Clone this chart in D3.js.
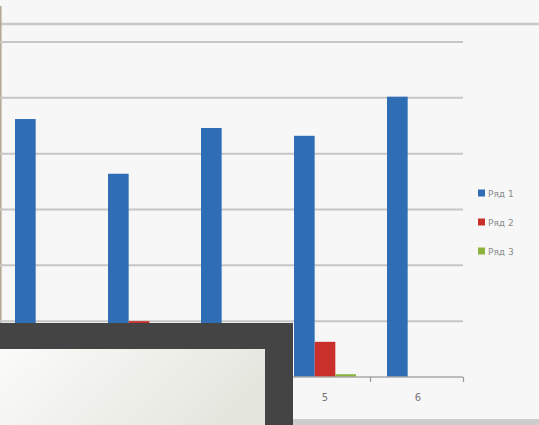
<!DOCTYPE html>
<html>
<head>
<meta charset="utf-8">
<script src="https://cdn.jsdelivr.net/npm/d3@7"></script>
<style>
  body { margin: 0; background: #f7f7f7; overflow: hidden; }
  svg { display: block; }
</style>
</head>
<body>
<script>
// chart values (category 1 sits off the left edge, lower parts hidden by the panel)
const categories = ["1", "2", "3", "4", "5", "6"];
const series = ["Ряд 1", "Ряд 2", "Ряд 3"];
const row1 = [4.3, 4.62, 3.64, 4.46, 4.32, 5.02];
const row2 = [0.5, 0.4, 1.0, 0.6, 0.63, 0];
const row3 = [0.3, 0.2, 0.2, 0.2, 0.05, 0];
const yTicks = [0, 1, 2, 3, 4, 5, 6];

const colors = ["#2f6db5", "#c9302b", "#8db33f"];
const W = 539, H = 425;

const data = categories.map((c, i) => ({cat: c, vals: [row1[i], row2[i], row3[i]]}));

const svg = d3.select("body").append("svg")
  .attr("width", W)
  .attr("height", H);

const x = d3.scaleBand().domain(categories).range([-93.5, 464.5]).paddingInner(0);
const xSub = d3.scaleBand().domain(series).range([x.bandwidth() / 2 - 31, x.bandwidth() / 2 + 31]);
const y = d3.scaleLinear().domain([0, 6]).range([377, 42]);

svg.append("rect").attr("width", W).attr("height", H).attr("fill", "#f7f7f7");

// photo frame line on top
svg.append("line")
  .attr("x1", 0).attr("x2", W).attr("y1", 24).attr("y2", 24)
  .attr("stroke", "#c9c9c9").attr("stroke-width", 2.5);
svg.append("line")
  .attr("x1", 0.8).attr("x2", 0.8).attr("y1", 6).attr("y2", 330)
  .attr("stroke", "#b0a890").attr("stroke-width", 1.5);

// gridlines
svg.append("g")
  .attr("class", "grid")
  .selectAll("line")
  .data(yTicks.filter(d => d > 0))
  .join("line")
  .attr("x1", 0).attr("x2", 463)
  .attr("y1", d => y(d)).attr("y2", d => y(d))
  .attr("stroke", "#c6c6c6")
  .attr("stroke-width", 2);

// bars
const groups = svg.append("g").selectAll("g")
  .data(data)
  .join("g")
  .attr("transform", d => `translate(${x(d.cat)},0)`);

groups.selectAll("rect")
  .data(d => d.vals.map((v, i) => ({s: series[i], v: v, i: i})))
  .join("rect")
  .attr("x", d => xSub(d.s))
  .attr("width", xSub.bandwidth())
  .attr("y", d => y(d.v))
  .attr("height", d => y(0) - y(d.v))
  .attr("fill", d => colors[d.i]);

// x axis
const xAxis = svg.append("g").attr("transform", `translate(0,${y(0)})`);
xAxis.append("line")
  .attr("x1", 0).attr("x2", 463)
  .attr("stroke", "#a9a9a9").attr("stroke-width", 1.5);
xAxis.selectAll(".tick")
  .data(categories)
  .join("line")
  .attr("x1", d => x(d) + x.bandwidth() - 1).attr("x2", d => x(d) + x.bandwidth() - 1)
  .attr("y1", 0).attr("y2", 5)
  .attr("stroke", "#999").attr("stroke-width", 1.2);
// labels of categories left of the photo edge are not drawn
xAxis.selectAll("text")
  .data(categories.filter(d => x(d) >= 0))
  .join("text")
  .attr("x", d => x(d) + x.bandwidth() / 2)
  .attr("y", 24)
  .attr("text-anchor", "middle")
  .attr("fill", "#777")
  .style("font-family", "DejaVu Sans, sans-serif")
  .style("font-size", "10px")
  .text(d => d);

// legend
const legend = svg.append("g").attr("transform", "translate(478,193)");
const item = legend.selectAll("g")
  .data(series)
  .join("g")
  .attr("transform", (d, i) => `translate(0,${i * 29})`);
item.append("rect")
  .attr("x", 0).attr("y", -3.5)
  .attr("width", 7).attr("height", 7)
  .attr("fill", (d, i) => colors[i]);
item.append("text")
  .attr("x", 10).attr("y", 3.5)
  .attr("fill", "#8a8a8a")
  .style("font-family", "DejaVu Sans, sans-serif")
  .style("font-size", "9px")
  .text(d => d);

// foreground panel covering the lower left part of the photo
const defs = svg.append("defs");
const grad = defs.append("linearGradient").attr("id", "paper")
  .attr("x1", "0%").attr("x2", "100%").attr("y1", "0%").attr("y2", "30%");
grad.append("stop").attr("offset", "0%").attr("stop-color", "#fbfbf9");
grad.append("stop").attr("offset", "100%").attr("stop-color", "#e5e7df");

svg.append("rect")
  .attr("x", 0).attr("y", 323).attr("width", 293).attr("height", H - 323)
  .attr("fill", "#444444");
svg.append("rect")
  .attr("x", 0).attr("y", 349).attr("width", 265).attr("height", H - 349)
  .attr("fill", "url(#paper)");
svg.append("rect")
  .attr("x", 293).attr("y", 419).attr("width", W - 293).attr("height", H - 419)
  .attr("fill", "#cdcdcd");
</script>
</body>
</html>
